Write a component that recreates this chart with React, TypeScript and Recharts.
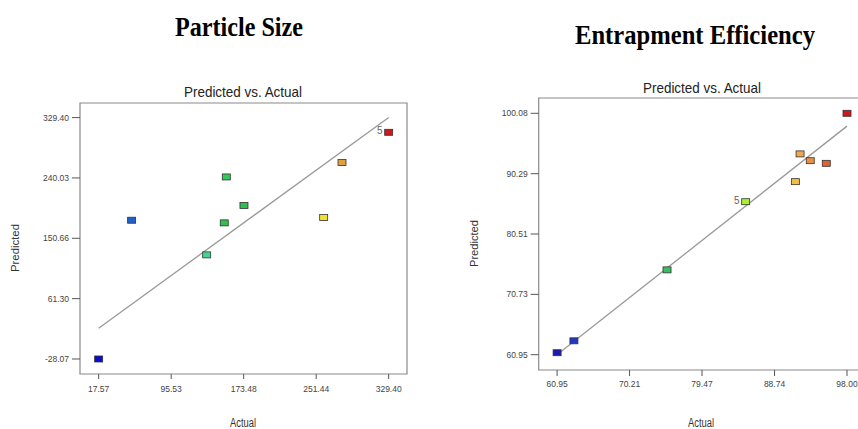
import React from 'react';
import { ScatterChart, Scatter, XAxis, YAxis, ReferenceLine, ReferenceArea } from 'recharts';

// Particle Size: actual vs predicted
const psActual = [17.57, 53.0, 133.7, 152.6, 154.8, 173.8, 259.5, 279.2, 329.4];
const psPredicted = [-28.07, 177.4, 126.1, 173.5, 241.5, 199.2, 181.4, 262.8, 307.6];
const psColors = ['#0a0ad0', '#2060c8', '#40d890', '#30c050', '#30c858', '#30c050', '#f0e030', '#e0a040', '#d01818'];
const psLabels = ['', '', '', '', '', '', '', '', '5'];
const psTicks = [17.57, 95.53, 173.48, 251.44, 329.4];
const psYTicks = [-28.07, 61.3, 150.66, 240.03, 329.4];
const psFit = [17.57, 329.4];

// Entrapment Efficiency: actual vs predicted
const eeActual = [60.95, 63.1, 75.0, 85.05, 91.4, 92.0, 93.3, 95.35, 98.0];
const eePredicted = [61.27, 63.2, 74.7, 85.75, 89.0, 93.5, 92.4, 91.97, 100.08];
const eeColors = ['#1a1ab0', '#2038c0', '#38c060', '#a8f030', '#f0c040', '#f0a850', '#e89040', '#e06030', '#d01818'];
const eeLabels = ['', '', '', '5', '', '', '', '', ''];
const eeTicks = [60.95, 70.21, 79.47, 88.74, 98.0];
const eeYTicks = [60.95, 70.73, 80.51, 90.29, 100.08];
const eeFit = [61.3, 98.0];

const SANS = '"Liberation Sans", Arial, sans-serif';
const SERIF = '"Liberation Serif", "Times New Roman", serif';
const tickStyle = { fontSize: 8.5, fill: '#444', fontFamily: SANS };

const Square = (p: any) => {
  const { cx, cy, payload } = p;
  return (
    <g>
      <rect x={cx - 4} y={cy - 3} width={8} height={6} fill={payload.color} stroke="#333" strokeWidth={0.8} />
      {payload.label && (
        <text x={cx - 6} y={cy + 2} textAnchor="end" fontSize={10} fill="#666" fontFamily={SANS}>
          {payload.label}
        </text>
      )}
    </g>
  );
};

function Panel(props: {
  actual: number[]; predicted: number[]; colors: string[]; labels: string[];
  xTicks: number[]; yTicks: number[]; fit: number[];
  xDomain: [number, number]; yDomain: [number, number];
  width: number; margin: any; xTickSize: number; xTickMargin: number;
}) {
  const data = props.actual.map((x, i) => ({ x, y: props.predicted[i], color: props.colors[i], label: props.labels[i] }));
  const [x0, x1] = props.xDomain;
  const [y0, y1] = props.yDomain;
  return (
    <ScatterChart width={props.width} height={429} margin={props.margin}>
      <XAxis
        type="number" dataKey="x" domain={props.xDomain} ticks={props.xTicks} allowDataOverflow
        tickFormatter={(v: number) => v.toFixed(2)} tick={tickStyle} axisLine={false}
        tickLine={{ stroke: '#555' }} tickSize={props.xTickSize} tickMargin={props.xTickMargin} height={30}
        interval={0}
      />
      <YAxis
        type="number" dataKey="y" domain={props.yDomain} ticks={props.yTicks} allowDataOverflow
        tickFormatter={(v: number) => v.toFixed(2)} tick={tickStyle} axisLine={false}
        tickLine={{ stroke: '#555' }} tickSize={8} tickMargin={3} width={60} interval={0}
      />
      <ReferenceArea x1={x0} x2={x1} y1={y0} y2={y1} fill="none" stroke="#8a8a8a" strokeWidth={1.2} />
      <ReferenceLine
        segment={[{ x: props.fit[0], y: props.fit[0] }, { x: props.fit[1], y: props.fit[1] }]}
        stroke="#999" strokeWidth={1.3}
      />
      <Scatter data={data} shape={Square} isAnimationActive={false} />
    </ScatterChart>
  );
}

export default function App() {
  return (
    <div style={{ position: 'fixed', left: 0, top: 0, width: 858, height: 429, overflow: 'hidden', background: '#fff' }}>
      <div style={{ position: 'absolute', left: 0, top: 0 }}>
        <Panel
          actual={psActual} predicted={psPredicted} colors={psColors} labels={psLabels}
          xTicks={psTicks} yTicks={psYTicks} fit={psFit}
          xDomain={[-2.5, 349.1]} yDomain={[-50.3, 351]}
          width={420} margin={{ left: 20, right: 13, top: 103, bottom: 25 }}
          xTickSize={5} xTickMargin={7}
        />
      </div>
      <div style={{ position: 'absolute', left: 430, top: 0 }}>
        <Panel
          actual={eeActual} predicted={eePredicted} colors={eeColors} labels={eeLabels}
          xTicks={eeTicks} yTicks={eeYTicks} fit={eeFit}
          xDomain={[58.6, 100.3]} yDomain={[58.47, 102.56]}
          width={450} margin={{ left: 48.7, right: 15, top: 98, bottom: 29 }}
          xTickSize={6} xTickMargin={5}
        />
      </div>
      <svg width={858} height={429} style={{ position: 'absolute', left: 0, top: 0, pointerEvents: 'none' }}>
        <text x={239} y={36} textAnchor="middle" fontFamily={SERIF} fontWeight="bold" fontSize={28}
          textLength={128} lengthAdjust="spacingAndGlyphs">Particle Size</text>
        <text x={695} y={44} textAnchor="middle" fontFamily={SERIF} fontWeight="bold" fontSize={28}
          textLength={240} lengthAdjust="spacingAndGlyphs">Entrapment Efficiency</text>
        <text x={243} y={97} textAnchor="middle" fontFamily={SANS} fontSize={15} fill="#222"
          textLength={118} lengthAdjust="spacingAndGlyphs">Predicted vs. Actual</text>
        <text x={702} y={93} textAnchor="middle" fontFamily={SANS} fontSize={15} fill="#222"
          textLength={118} lengthAdjust="spacingAndGlyphs">Predicted vs. Actual</text>
        <text transform="translate(19,248) rotate(-90)" textAnchor="middle" fontFamily={SANS} fontSize={10} fill="#333"
          textLength={48} lengthAdjust="spacingAndGlyphs">Predicted</text>
        <text transform="translate(478,243.5) rotate(-90)" textAnchor="middle" fontFamily={SANS} fontSize={10} fill="#333"
          textLength={47} lengthAdjust="spacingAndGlyphs">Predicted</text>
        <text x={243} y={427} textAnchor="middle" fontFamily={SANS} fontSize={12} fill="#333"
          textLength={26} lengthAdjust="spacingAndGlyphs">Actual</text>
        <text x={701} y={427} textAnchor="middle" fontFamily={SANS} fontSize={12} fill="#333"
          textLength={26} lengthAdjust="spacingAndGlyphs">Actual</text>
      </svg>
    </div>
  );
}
